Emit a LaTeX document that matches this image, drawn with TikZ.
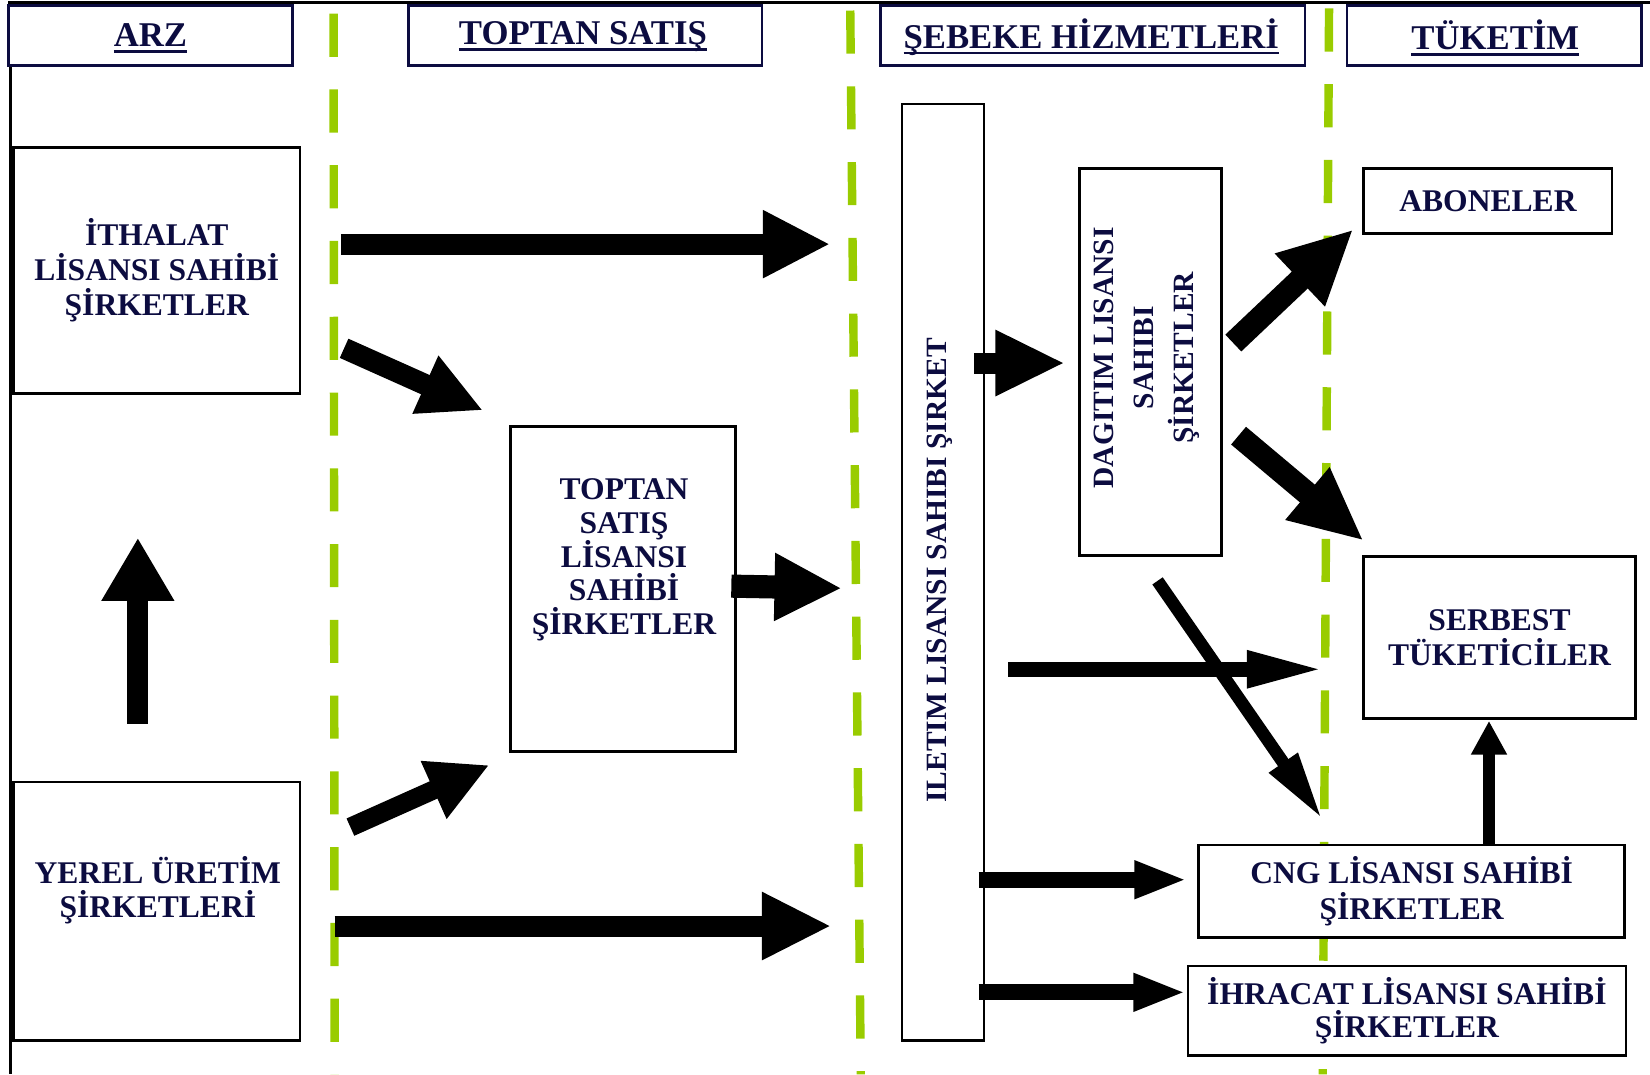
\documentclass[tikz,border=0pt]{standalone}
\usepackage{fontspec}
\setmainfont{Liberation Serif}
\usetikzlibrary{arrows.meta,calc}
\definecolor{navy}{RGB}{12,12,64}
\definecolor{lgreen}{RGB}{153,204,0}
\newcommand{\hdul}[1]{\setbox0=\hbox{#1}\rlap{\copy0}\rule[-6pt]{\wd0}{2.5pt}}
\begin{document}
\begin{tikzpicture}[x=1pt,y=-1pt,
  hdr/.style={draw=navy,line width=2.5pt,fill=white,inner sep=0pt},
  hdrtxt/.style={text=navy,inner sep=0pt,font=\fontsize{33}{36}\selectfont\bfseries},
  box/.style={draw=black,line width=2.5pt,fill=white,text=navy,align=center,inner sep=0pt,font=\fontsize{30}{33}\selectfont\bfseries},
  txt/.style={text=navy,align=center,inner sep=0pt,font=\fontsize{30}{33}\selectfont\bfseries},
  gline/.style={draw=lgreen,line width=8pt,dash pattern=on 41pt off 31pt},
  blk/.style n args={3}{draw=black,line width=#1,-{Triangle[length=#2,width=#3]}}
]
\useasboundingbox (0,0) rectangle (1568,1021);
% frame
\draw[line width=3pt] (8,2) -- (1568,2);
\draw[line width=2.5pt] (10,2) -- (10,1021);
% green dashed lane lines
\draw[gline] (317,13) -- (318,1021);
\draw[gline] (808,10) -- (818,1021);
\draw[gline] (1263,8) -- (1257,1021);
% headers
\node[hdr,minimum width=270pt,minimum height=57pt] (arz) at (143,33.5) {};
\node[hdrtxt] (arzT) at (143,36) {\hdul{ARZ}};
\node[hdr,minimum width=336pt,minimum height=57pt] (tops) at (556,33.5) {};
\node[hdrtxt] (topsT) at (554,35) {\hdul{TOPTAN SATIŞ}};
\node[hdr,minimum width=403pt,minimum height=57pt] (sebeke) at (1038.5,33.5) {};
\node[hdrtxt] (sebekeT) at (1037,35) {\hdul{ŞEBEKE HİZMETLERİ}};
\node[hdr,minimum width=280pt,minimum height=57pt] (tuketim) at (1420,33.5) {};
\node[hdrtxt] (tuketimT) at (1421,36) {\hdul{TÜKETİM}};
% boxes
\node[box,minimum width=272pt,minimum height=234pt] (ithalat) at (149,257) {İTHALAT\\LİSANSI SAHİBİ\\ŞİRKETLER};
\node[box,minimum width=272pt,minimum height=246pt] (yerel) at (149,866) {};
\node[txt] (yerelT) at (150,846) {YEREL ÜRETİM\\ŞİRKETLERİ};
\node[box,minimum width=214pt,minimum height=309pt] (toptan) at (592,559.5) {};
\node[txt,font=\fontsize{30}{32}\selectfont\bfseries] (toptanT) at (593,532) {TOPTAN\\SATIŞ\\LİSANSI\\SAHİBİ\\ŞİRKETLER};
\node[box,minimum width=78pt,minimum height=890pt] (iletim) at (896,544) {};
\node[txt,rotate=90,font=\fontsize{28}{30}\selectfont\bfseries] (iletimT) at (893,542) {ILETIM LISANSI SAHIBI ŞIRKET};
\node[box,minimum width=135pt,minimum height=368pt] (dagitim) at (1093.5,344) {};
\node[txt,rotate=90,font=\fontsize{28}{38}\selectfont\bfseries] (dagitimT) at (1090,340) {DAGITIM LISANSI\\SAHIBI\\ŞİRKETLER};
\node[box,minimum width=236pt,minimum height=62pt] (aboneler) at (1414,191) {ABONELER};
\node[box,minimum width=258pt,minimum height=154pt,font=\fontsize{30}{34}\selectfont\bfseries] (serbest) at (1425,606) {SERBEST\\TÜKETİCİLER};
\node[box,minimum width=405pt,minimum height=88pt,font=\fontsize{30}{34}\selectfont\bfseries] (cng) at (1341.5,847) {CNG LİSANSI SAHİBİ\\ŞİRKETLER};
\node[box,minimum width=416pt,minimum height=85pt,font=\fontsize{30}{31}\selectfont\bfseries] (ihracat) at (1337,960.5) {İHRACAT LİSANSI SAHİBİ\\ŞİRKETLER};
% arrow end points
\coordinate (a1s) at (324,232);  \coordinate (a1e) at (789,232);
\coordinate (a2s) at (327,331);  \coordinate (a2e) at (459,390);
\coordinate (a3s) at (131,688);  \coordinate (a3e) at (131,511);
\coordinate (a4s) at (333,786);  \coordinate (a4e) at (465,727);
\coordinate (a5s) at (318,880);  \coordinate (a5e) at (790,880);
\coordinate (a6s) at (695,557);  \coordinate (a6e) at (800,559);
\coordinate (a7s) at (926,345);  \coordinate (a7e) at (1012,345);
\coordinate (a8s) at (1172,326); \coordinate (a8e) at (1286,218);
\coordinate (a9s) at (1177,414); \coordinate (a9e) at (1296,514);
\coordinate (a10s) at (958,636); \coordinate (a10e) at (1259,636);
\coordinate (a11s) at (1100,552); \coordinate (a11e) at (1257,779);
\coordinate (a12s) at (1415,803); \coordinate (a12e) at (1415,685);
\coordinate (a13s) at (930,836); \coordinate (a13e) at (1128,836);
\coordinate (a14s) at (930,943); \coordinate (a14e) at (1127,943);
% arrows
\draw[blk={20pt}{64pt}{60pt}] (a1s) -- (a1e);
\draw[blk={20pt}{60pt}{56pt}] (a2s) -- (a2e);
\draw[blk={20pt}{60pt}{65pt}] (a3s) -- (a3e);
\draw[blk={18pt}{58pt}{56pt}] (a4s) -- (a4e);
\draw[blk={20pt}{66pt}{60pt}] (a5s) -- (a5e);
\draw[blk={22pt}{64pt}{60pt}] (a6s) -- (a6e);
\draw[blk={20pt}{66pt}{58pt}] (a7s) -- (a7e);
\draw[blk={22pt}{70pt}{64pt}] (a8s) -- (a8e);
\draw[blk={22pt}{70pt}{60pt}] (a9s) -- (a9e);
\draw[blk={14pt}{74pt}{32pt}] (a10s) -- (a10e);
\draw[blk={12pt}{66pt}{30pt}] (a11s) -- (a11e);
\draw[blk={12pt}{32pt}{32pt}] (a12s) -- (a12e);
\draw[blk={15pt}{50pt}{33pt}] (a13s) -- (a13e);
\draw[blk={15pt}{50pt}{33pt}] (a14s) -- (a14e);
\end{tikzpicture}
\end{document}
